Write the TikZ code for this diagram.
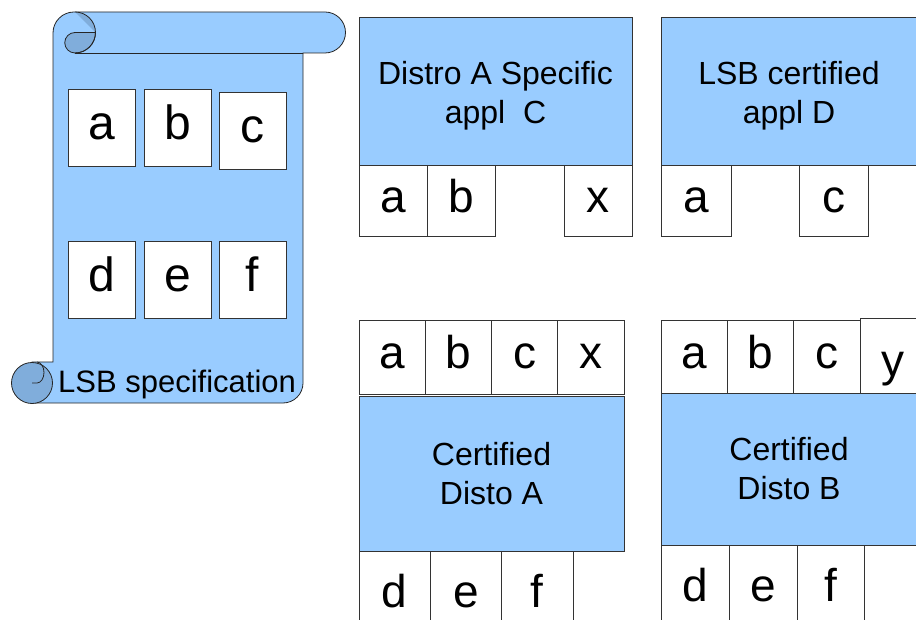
\documentclass[tikz,border=0pt]{standalone}
\usepackage{fontspec}
\setmainfont{Liberation Sans}
\usepackage{xcolor}
\usepackage{tikz}
\definecolor{ScrollBlue}{HTML}{99CCFF}
\definecolor{CurlBlue}{HTML}{80ADDB}
\definecolor{EdgeGray}{HTML}{333333}

\begin{document}
\begin{tikzpicture}[x=1pt, y=-1pt, node distance=68pt,
    scroll/.style={draw=black!85, line width=0.8pt},
    cell/.style={draw=EdgeGray, fill=white, line width=0.8pt, inner sep=0pt, outer sep=0pt, font=\fontsize{46}{46}\selectfont, text height=33pt, text depth=9.2pt},
    bigcell/.style={cell, font=\fontsize{48}{48}\selectfont, text height=34.5pt, text depth=9.6pt, minimum width=67pt, minimum height=77pt},
    panel/.style={draw=EdgeGray, fill=ScrollBlue, line width=0.8pt, inner sep=0pt, outer sep=0pt, anchor=north west, align=center, font=\fontsize{32}{39}\selectfont}]
    \useasboundingbox (0,0) rectangle (916,620);
    \clip (0,0) rectangle (916,620);

    \draw[scroll, fill=ScrollBlue] (53,362) -- (53,33) arc[start angle=180, end angle=270, radius=21] -- (325,12) arc[start angle=270, end angle=450, radius=20.5] -- (303,53) -- (303,383) arc[start angle=0, end angle=90, radius=20] -- (32,403) -- (32,362) -- cycle;
    \draw[scroll] (75,53) -- (303,53);
    \fill[CurlBlue] (75,12) arc[start angle=270, end angle=360, radius=20.5] -- cycle;
    \draw[scroll, fill=CurlBlue] (75,53) arc[start angle=90, end angle=270, radius=10.25] -- (95.5,32.5) arc[start angle=0, end angle=90, radius=20.5] -- cycle;
    \draw[scroll] (75,12) arc[start angle=270, end angle=450, radius=20.5];
    \draw[scroll, fill=CurlBlue] (32,383) circle[radius=20.5];
    \draw[scroll] (32,383) -- (37,383) arc[start angle=90, end angle=-90, x radius=7, y radius=10.5];

    \node (sa) [bigcell, anchor=north west] at (68,89) {a};
    \node (sb) [bigcell, right of=sa, node distance=76pt] {b};
    \node (sc) [bigcell, right of=sb, node distance=75pt, yshift=-3pt] {c};
    \node (sd) [bigcell, below of=sa, node distance=152pt] {d};
    \node (se) [bigcell, right of=sd, node distance=76pt] {e};
    \node (sf) [bigcell, right of=se, node distance=75pt] {f};
    \node (spec) [font=\fontsize{31}{31}\selectfont, anchor=base west, inner sep=0pt] at (58,392) {LSB specification};

    \node (distroA) [panel, minimum width=273pt, minimum height=148pt] at (359,17) {\raisebox{-5pt}[\height][\depth]{\begin{tabular}{@{}c@{}}Distro A Specific\\appl\ \ C\end{tabular}}};
    \node (ca) [cell, minimum width=68pt, minimum height=71pt, anchor=north west] at (distroA.south west) {a};
    \node (cb) [cell, minimum width=68pt, minimum height=71pt, right of=ca] {b};
    \node (cx) [cell, minimum width=68pt, minimum height=71pt, anchor=north east] at (distroA.south east) {x};

    \node (lsbD) [panel, minimum width=256pt, minimum height=148pt] at (661,17) {\raisebox{-5pt}[\height][\depth]{\begin{tabular}{@{}c@{}}LSB certified\\appl D\end{tabular}}};
    \node (da) [cell, minimum width=70pt, minimum height=71pt, anchor=north west] at (lsbD.south west) {a};
    \node (dc) [cell, minimum width=69pt, minimum height=71pt, right of=da, node distance=137.5pt] {c};

    \node (xa) [cell, minimum width=66.25pt, minimum height=74pt, anchor=north west] at (359,320) {a};
    \node (xb) [cell, minimum width=66.25pt, minimum height=74pt, right of=xa, node distance=66.25pt] {b};
    \node (xc) [cell, minimum width=66.25pt, minimum height=74pt, right of=xb, node distance=66.25pt] {c};
    \node (xx) [cell, minimum width=66.25pt, minimum height=74pt, right of=xc, node distance=66.25pt] {x};
    \node (distoA) [panel, minimum width=265pt, minimum height=155pt] at (359,396) {Certified\\Disto A};
    \node (fd) [cell, minimum width=71.3pt, minimum height=90pt, anchor=north west] at (distoA.south west) {d};
    \node (fe) [cell, minimum width=71.3pt, minimum height=90pt, right of=fd, node distance=71.3pt] {e};
    \node (ff) [cell, minimum width=71.3pt, minimum height=90pt, right of=fe, node distance=71.3pt] {f};

    \node (ya) [cell, minimum width=66.3pt, minimum height=73pt, anchor=north west] at (661,320) {a};
    \node (yb) [cell, minimum width=66.3pt, minimum height=73pt, right of=ya, node distance=66.3pt] {b};
    \node (yc) [cell, minimum width=66.3pt, minimum height=73pt, right of=yb, node distance=66.3pt] {c};
    \node (yy) [cell, minimum width=66pt, minimum height=75pt, text height=51pt, anchor=south west] at (yc.south east) {y};
    \node (distoB) [panel, minimum width=256pt, minimum height=152pt] at (661,393) {Certified\\Disto B};
    \node (gd) [cell, minimum width=68pt, minimum height=90pt, anchor=north west] at (distoB.south west) {d};
    \node (ge) [cell, minimum width=68pt, minimum height=90pt, right of=gd] {e};
    \node (gf) [cell, minimum width=67pt, minimum height=90pt, right of=ge, node distance=67.5pt] {f};
\end{tikzpicture}
\end{document}
